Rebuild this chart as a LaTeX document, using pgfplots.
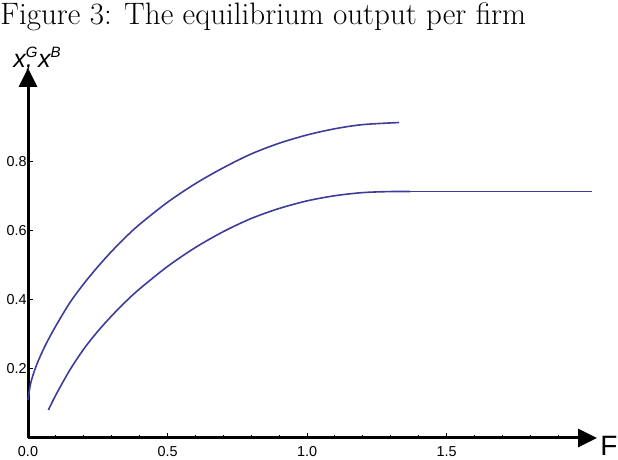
\documentclass[border=0pt]{standalone}
\usepackage{fontspec}
\newfontfamily\arial{Liberation Sans}
\usepackage{pgfplots}
\usepackage{pgfplotstable}
\pgfplotsset{compat=1.18}
\usetikzlibrary{arrows.meta}
\definecolor{mma}{rgb}{0.24,0.24,0.6}
\pgfplotstableread{
F y
0.0 0.11
0.01 0.16
0.03 0.21
0.06 0.265
0.10 0.325
0.15 0.392
0.20 0.447
0.25 0.496
0.30 0.541
0.35 0.582
0.40 0.619
0.50 0.683
0.60 0.737
0.70 0.783
0.80 0.823
0.90 0.854
1.00 0.878
1.10 0.896
1.20 0.908
1.33 0.914
}\upper
\pgfplotstableread{
F y
0.073 0.081
0.10 0.125
0.15 0.197
0.20 0.258
0.25 0.309
0.30 0.354
0.35 0.395
0.40 0.432
0.50 0.497
0.60 0.552
0.70 0.598
0.80 0.636
0.90 0.665
1.00 0.687
1.10 0.702
1.20 0.711
1.30 0.714
1.37 0.714
}\lowercurve
\pgfplotstableread{
F y
1.30 0.714
2.02 0.714
}\flat
\newcommand{\sups}[1]{\raisebox{5.2pt}{\fontsize{7.5}{8}\selectfont #1}}
\begin{document}
\begin{tikzpicture}
\path[use as bounding box] (-14pt,-11pt) rectangle (295pt,219pt);
\begin{axis}[
 at={(0,0)}, anchor=south west, scale only axis,
 width=284.5pt, height=185pt,
 xmin=0, xmax=2.039, ymin=0, ymax=1.072,
 axis lines=middle,
 axis line style={line width=1.5pt, -{Triangle[length=9.5pt,width=9pt]}},
 xtick={0,0.5,1,1.5}, ytick={0.2,0.4,0.6,0.8},
 minor xtick={0.1,0.2,0.3,0.4,0.6,0.7,0.8,0.9,1.1,1.2,1.3,1.4,1.6,1.7,1.8,1.9},
 xticklabels={0.0,0.5,1.0,1.5}, yticklabels={0.2,0.4,0.6,0.8},
 hide obscured x ticks=false,
 tick align=inside,
 major tick length=2.7pt, minor tick length=1.7pt,
 tick style={black, line width=0.5pt},
 ticklabel style={font=\arial\fontsize{7.2}{8.5}\selectfont},
 xticklabel style={anchor=north, inner sep=0pt, yshift=-4pt},
 yticklabel style={anchor=east, inner sep=0pt, xshift=-0.5pt},
 clip=false,
]
\addplot[mma, line width=0.8pt, no marks, smooth] table[x=F,y=y] {\upper};
\addplot[mma, line width=0.8pt, no marks, smooth] table[x=F,y=y] {\lowercurve};
\addplot[mma, line width=0.85pt, no marks] table[x=F,y=y] {\flat};
\end{axis}
\node[font=\arial\fontsize{14}{16}\selectfont, inner sep=0pt] at (290.5pt,-4pt) {F};
\node[font=\arial\fontsize{12.5}{14}\selectfont, inner sep=0pt, anchor=base west] at (-7.5pt,185pt) {\itshape x\makebox[0pt][l]{\sups{G}},\hspace{2.6pt}x\sups{B}};
\node[anchor=base west, inner sep=0pt, font=\fontsize{15.5}{18}\selectfont] at (-14pt,206.5pt) {Figure 3: The equilibrium output per firm};
\end{tikzpicture}
\end{document}
